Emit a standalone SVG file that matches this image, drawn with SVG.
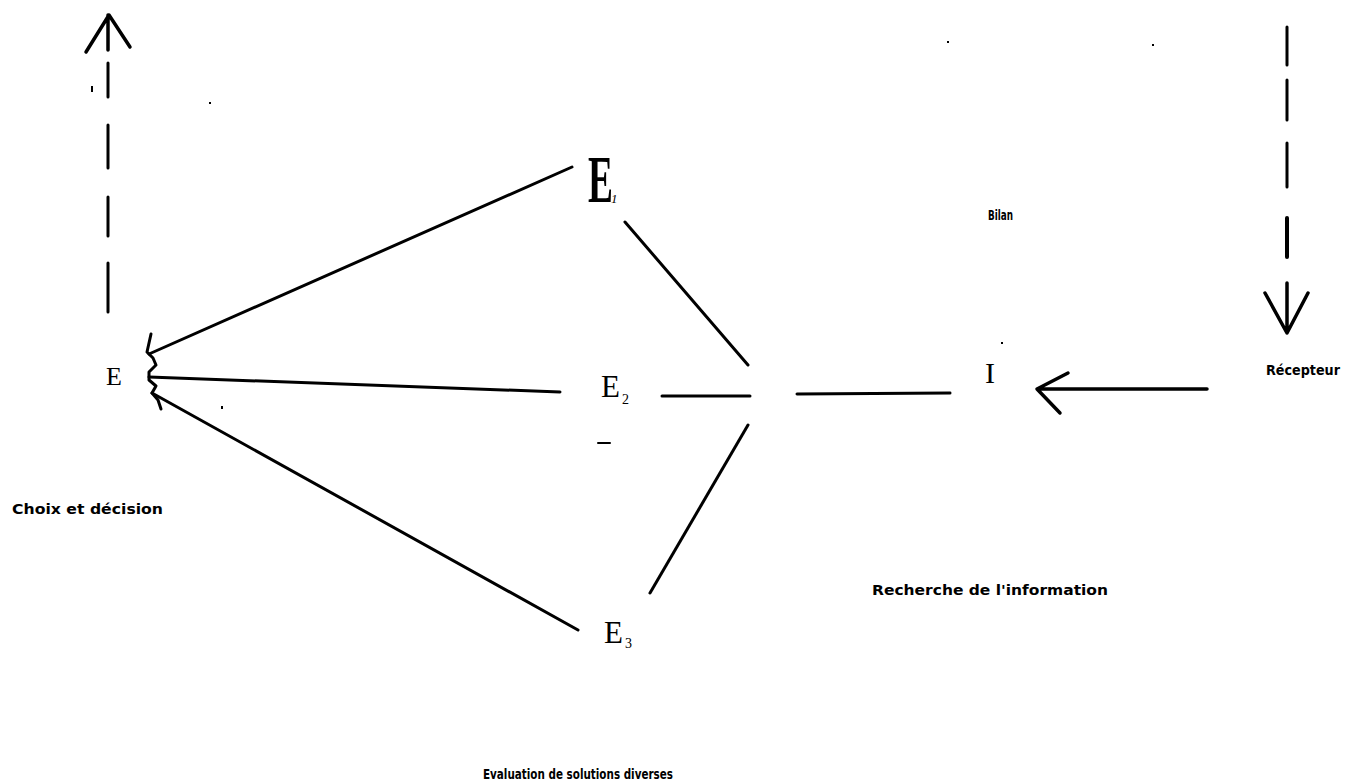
<svg xmlns="http://www.w3.org/2000/svg" width="1357" height="782" viewBox="0 0 1357 782">
<style>
.ln{stroke:#000;stroke-width:3;fill:none;stroke-linecap:round;stroke-linejoin:round}
.lbl{font-family:"DejaVu Sans","Liberation Sans",sans-serif;font-weight:bold;font-size:14.5px;fill:#000}
.ser{font-family:"Liberation Serif","DejaVu Serif",serif;fill:#000}
.dot{fill:#000}
</style>
<rect width="1357" height="782" fill="#fff"/>
<g id="connectors">
  <path class="ln" style="stroke-width:3.5" d="M108,15 L108,50 M86,52 L109,15 L130,47"/>
  <path class="ln" d="M108,63 L108,97 M108,125 L108,168 M108,197 L108,236 M108,263 L108,312"/>
  <path class="ln" d="M1287,27 L1287,65 M1287,80 L1287,120 M1287,143 L1287,187"/>
  <path class="ln" style="stroke-width:4" d="M1287,218 L1287,257"/>
  <path class="ln" style="stroke-width:3.5" d="M1287,283 L1287,333 M1265,293 L1287,333 L1308,293"/>
  <path class="ln" d="M151,334 L147,352 L153,358 L156,365 L149,372 L149,380 L156,386 L152,393 L158,400 L161,409"/>
  <path class="ln" d="M149,354 L572,167"/>
  <path class="ln" d="M149,377 L560,392"/>
  <path class="ln" d="M152,393 L578,630"/>
  <path class="ln" d="M625,222 L748,365"/>
  <path class="ln" d="M748,425 L650,593"/>
  <path class="ln" d="M662,396 L750,396"/>
  <path class="ln" d="M797,394 L950,393"/>
  <path class="ln" style="stroke-width:3.5" d="M1207,389 L1037,389 M1068,373 L1037,389 L1060,413"/>
</g>
<g id="node-E">
  <text class="ser" x="106" y="385" font-size="26">E</text>
</g>
<g id="node-E1">
  <text class="ser" font-weight="bold" font-size="68" transform="translate(588,202) scale(0.55,1)">E</text>
  <text class="ser" x="611" y="203" font-size="13" font-style="italic">1</text>
</g>
<g id="node-E2">
  <text class="ser" x="601" y="397" font-size="31">E</text>
  <text class="ser" x="622" y="404" font-size="14">2</text>
  <path class="ln" style="stroke-width:2" d="M598,443 L610,443"/>
</g>
<g id="node-E3">
  <text class="ser" x="604" y="643" font-size="31">E</text>
  <text class="ser" x="625" y="648" font-size="14">3</text>
</g>
<g id="node-I">
  <text class="ser" x="985" y="383" font-size="30">I</text>
</g>
<g id="labels">
  <text class="lbl" x="988" y="220" font-size="11.5" textLength="25" lengthAdjust="spacingAndGlyphs">Bilan</text>
  <text class="lbl" x="1266" y="375" font-size="13.5" textLength="74" lengthAdjust="spacingAndGlyphs">Récepteur</text>
  <text class="lbl" x="12" y="514" textLength="151" lengthAdjust="spacingAndGlyphs">Choix et décision</text>
  <text class="lbl" x="872" y="595" textLength="236" lengthAdjust="spacingAndGlyphs">Recherche de l'information</text>
  <text class="lbl" x="483" y="779" font-size="12" textLength="190" lengthAdjust="spacingAndGlyphs">Evaluation de solutions diverses</text>
</g>
<g id="specks">
  <rect class="dot" x="91" y="86" width="2" height="6"/>
  <rect class="dot" x="209" y="102" width="2" height="2"/>
  <rect class="dot" x="947" y="41" width="2" height="2"/>
  <rect class="dot" x="1152" y="44" width="2" height="2"/>
  <rect class="dot" x="1001" y="342" width="2" height="2"/>
  <rect class="dot" x="221" y="406" width="2" height="3"/>
</g>
</svg>
